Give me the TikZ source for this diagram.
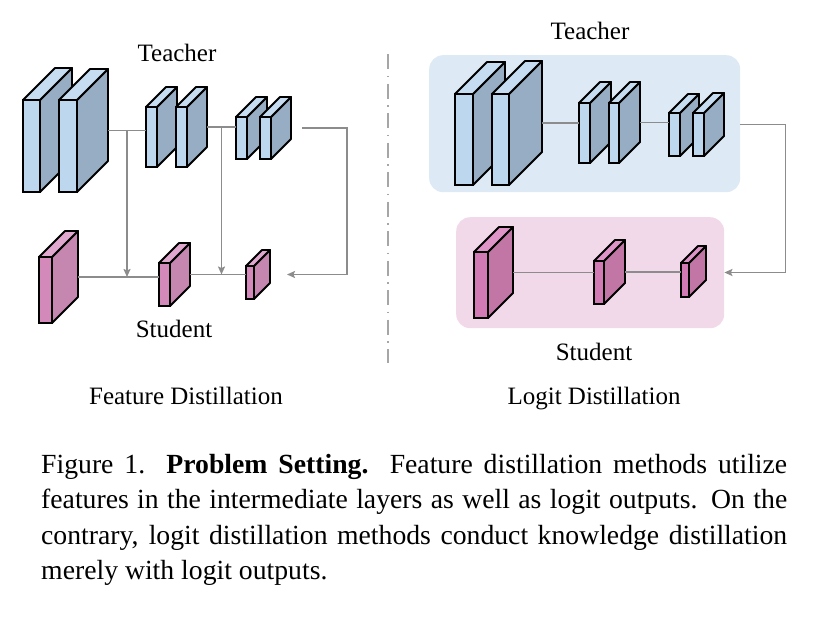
\documentclass[tikz,border=0pt]{standalone}
\usepackage{fontspec}
\setmainfont{Liberation Serif}
\usepackage{tikz}
\usetikzlibrary{arrows.meta, positioning, calc}

\definecolor{tfront}{HTML}{BDD7EE}
\definecolor{tside}{HTML}{97ADC3}
\definecolor{ttop}{HTML}{C6DCF0}
\definecolor{sfront}{HTML}{D489BB}
\definecolor{sside}{HTML}{C587AF}
\definecolor{stop}{HTML}{E0A8CF}
\definecolor{rfront}{HTML}{D27AB3}
\definecolor{rside}{HTML}{C276A6}
\definecolor{rtop}{HTML}{DE94C7}
\definecolor{tboxfill}{HTML}{DDE9F5}
\definecolor{sboxfill}{HTML}{F2D9EA}
\definecolor{linegray}{HTML}{8C8C8C}

% one feature map: name, x, y (top of front face), width, height, depth, colour set
\newcommand{\convlayer}[7]{%
  \node[layerface, fill=#7front, minimum width=#4pt, minimum height=#5pt] (#1) at (#2,#3) {};
  \draw[layeredge, fill=#7side] (#1.north east) -- ++(#6,-#6) -- ++(0,#5) -- (#1.south east) -- cycle;
  \draw[layeredge, fill=#7top] (#1.north west) -- ++(#6,-#6) -- ++(#4,0) -- (#1.north east) -- cycle;
  \coordinate (#1-out) at ($(#1.east)+(#6,-#6/2)$);
}

\begin{document}
\begin{tikzpicture}[
    x=1pt, y=-1pt,
    layerface/.style={rectangle, draw=black, line width=1.9pt, inner sep=0pt,
                      outer sep=0pt, anchor=north west},
    layeredge/.style={draw=black, line width=1.9pt, line join=round},
    conn/.style={draw=linegray, line width=1.7pt},
    arr/.style={-{Stealth[length=8pt, width=7pt, inset=1.5pt]}},
    lbl/.style={font=\fontsize{25}{30}\selectfont, inner sep=0pt, anchor=base},
    groupbox/.style={rectangle, rounded corners=14pt, inner sep=0pt, anchor=north west},
    divider/.style={draw=black!35, line width=1.3pt,
                    dash pattern=on 15pt off 6.5pt on 1.5pt off 6.5pt},
    caption/.style={font=\fontsize{27.7}{35.3}\selectfont, text width=746pt,
                    align=justify, inner sep=0pt, anchor=north west},
]
\useasboundingbox (0,0) rectangle (832,626);

% Feature distillation: teacher
\convlayer{t1}{23}{100}{17}{92}{32}{t}
\convlayer{t2}{59}{100}{18}{92}{31}{t}
\convlayer{t3}{146}{107}{11}{60}{20}{t}
\convlayer{t4}{176}{107}{11}{60}{20}{t}
\convlayer{t5}{236}{117}{11}{42}{20}{t}
\convlayer{t6}{260}{117}{11}{42}{20}{t}
\node[lbl] (tlab) at (177,62) {Teacher};

% Feature distillation: student
\convlayer{s1}{39}{257}{13}{66}{26}{s}
\convlayer{s2}{159}{263}{11}{43}{20}{s}
\convlayer{s3}{246}{266}{8}{33}{16}{s}
\node[lbl] (slab) at (174,337) {Student};

\draw[conn] (t2-out) -- (t2-out -| t3.west);
\draw[conn] (t4-out) -- (t4-out -| t5.west);
\draw[conn] (s1-out) -- (s1-out -| s2.west);
\draw[conn] (s2-out) -- (s2-out -| s3.west);

% Intermediate features and logits to student
\coordinate (j1) at ($(t2-out)!0.5!(t2-out -| t3.west)$);
\coordinate (j2) at ($(t4-out)!0.5!(t4-out -| t5.west)$);
\draw[conn, arr] (j1) -- (j1 |- s1-out);
\draw[conn, arr] (j2) -- (j2 |- s2-out);
\coordinate (fbstart) at ($(t6-out)+(11,0)$);
\coordinate (fbend) at ($(s3-out)+(17,0)$);
\draw[conn, arr] (fbstart) -- ++(45,0) |- (fbend);

\node[lbl] (flab) at (186,404) {Feature Distillation};

% Divider
\coordinate (divtop) at (388,54);
\coordinate (divbot) at (388,363);
\draw[divider] (divtop) -- (divbot);

% Logit distillation: boxes
\node[groupbox, fill=tboxfill, minimum width=311pt, minimum height=137pt] (tbox) at (429,55) {};
\node[groupbox, fill=sboxfill, minimum width=268pt, minimum height=111pt] (sbox) at (456,217) {};

% Logit distillation: teacher
\convlayer{r1}{455}{94}{18}{91}{32}{t}
\convlayer{r2}{492}{94}{17}{91}{33}{t}
\convlayer{r3}{579}{103}{11}{60}{21}{t}
\convlayer{r4}{609}{103}{10}{60}{21}{t}
\convlayer{r5}{669}{113}{11}{43}{19}{t}
\convlayer{r6}{693}{113}{11}{43}{20}{t}
\node[lbl] (rtlab) at (590,40) {Teacher};

% Logit distillation: student
\convlayer{rs1}{474}{252}{14}{66}{25}{r}
\convlayer{rs2}{594}{261}{10}{43}{21}{r}
\convlayer{rs3}{681}{263}{8}{34}{17}{r}
\node[lbl] (rslab) at (594,360) {Student};

\draw[conn] (r2-out) -- (r2-out -| r3.west);
\draw[conn] (r4-out) -- (r4-out -| r5.west);
\draw[conn] (rs1-out) -- (rs1-out -| rs2.west);
\draw[conn] (rs2-out) -- (rs2-out -| rs3.west);
\draw[conn, arr] (tbox.east |- r6-out) -- ++(45,0) |- (sbox.east |- rs1-out);

\node[lbl] (llab) at (594,404) {Logit Distillation};

% Caption
\node[caption] (cap) at (41,454) {Figure 1. \textbf{Problem Setting.} Feature distillation methods utilize\linebreak
features in the intermediate layers as well as logit outputs. On the\linebreak
contrary, logit distillation methods conduct knowledge distillation\linebreak
merely with logit outputs.};

\end{tikzpicture}
\end{document}
